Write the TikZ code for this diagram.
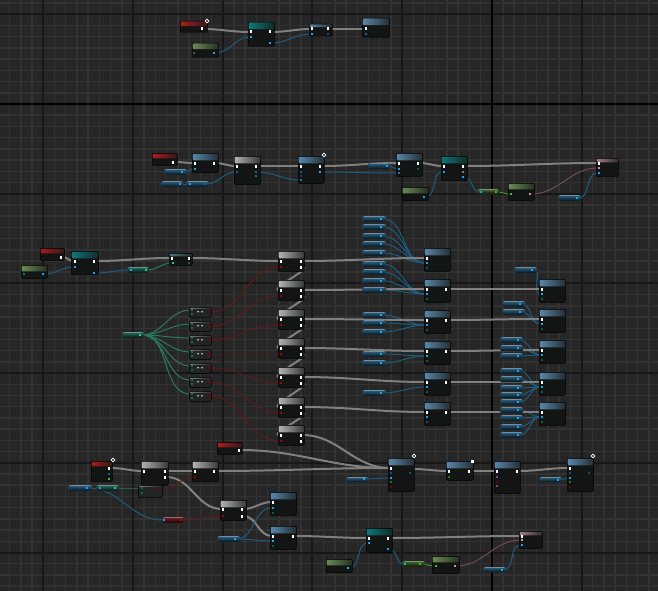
\documentclass[tikz,border=0pt]{standalone}
\usepackage{tikz}
\usepackage{xcolor}

\pgfdeclarelayer{grid}
\pgfdeclarelayer{wires}
\pgfsetlayers{grid,wires,main}

\definecolor{canvas}{HTML}{262626}
\definecolor{gridminor}{HTML}{323232}
\definecolor{gridmajor}{HTML}{171717}
\definecolor{nodebg}{HTML}{131515}
\definecolor{evred}{HTML}{A81E1E}
\definecolor{fnteal}{HTML}{0F777B}
\definecolor{fnblue}{HTML}{5A88AA}
\definecolor{macgray}{HTML}{B4B4B4}
\definecolor{cmphdr}{HTML}{7A7A7A}
\definecolor{pugreen}{HTML}{6B8C55}
\definecolor{pkpink}{HTML}{A27C8A}
\definecolor{varblue}{HTML}{3E8FBF}
\definecolor{varteal}{HTML}{3A9A82}
\definecolor{vargreen}{HTML}{5E9C40}
\definecolor{varred}{HTML}{A03030}
\definecolor{pinblue}{HTML}{1CA3EA}
\definecolor{pinteal}{HTML}{22C896}
\definecolor{pinred}{HTML}{A80000}
\definecolor{pingreen}{HTML}{33C21E}
\definecolor{pinpink}{HTML}{E884A4}
\definecolor{pinpurple}{HTML}{7A3AA0}
\definecolor{wexec}{HTML}{808080}
\definecolor{wblue}{HTML}{1D5D80}
\definecolor{wteal}{HTML}{2A7A5E}
\definecolor{wred}{HTML}{5E1A1A}
\definecolor{wpink}{HTML}{724A5C}
\definecolor{wgreen}{HTML}{3E8C2C}

\tikzset{
  nbody/.style={fill=nodebg, draw=black, line width=0.5pt, inner sep=0pt, anchor=north west, rounded corners=1pt},
  hdr/.style 2 args={path picture={\shade[left color=#1, right color=#1!22!nodebg] (path picture bounding box.north west) rectangle ([yshift=-#2pt]path picture bounding box.north east);}},
  ev/.style={nbody, hdr={evred}{5}},
  fnb/.style={nbody, hdr={fnblue}{7}},
  fnt/.style={nbody, hdr={fnteal}{7}},
  mac/.style={nbody, hdr={macgray}{7}},
  pure/.style={nbody, hdr={pugreen}{6}},
  pk/.style={nbody, hdr={pkpink}{4}},
  cmp/.style={nbody, fill=nodebg!85!gray, hdr={cmphdr}{1.5}},
  vnode/.style={inner sep=0pt, anchor=north west, rounded corners=2pt, draw=black!80, line width=0.4pt,
    top color=#1!70!black, bottom color=#1!10!black, minimum height=6pt,
    path picture={\draw[#1!55!white, line width=0.6pt] ([yshift=-0.4pt]path picture bounding box.north west) -- ([yshift=-0.4pt]path picture bounding box.north east);}},
  xpin/.style={fill=white, inner sep=0pt, minimum width=2.2pt, minimum height=3pt},
  dpin/.style={fill=#1, inner sep=0pt, minimum size=2.4pt},
  xw/.style={draw=wexec, line width=2pt},
  dw/.style={draw=#1, line width=1pt},
  ring/.style={draw=white, line width=0.7pt}
}

\begin{document}
\begin{tikzpicture}[x=1pt, y=-1pt]
\useasboundingbox (0,0) rectangle (658,591);

% canvas grid
\begin{pgfonlayer}{grid}
\fill[canvas] (0,0) rectangle (658,591);
\foreach \i in {-4,...,56} \draw[gridminor, line width=1.5pt] ({43.3+11.2125*\i},0) -- ++(0,591);
\foreach \i in {-2,...,52} \draw[gridminor, line width=1.5pt] (0,{14.3+11.2125*\i}) -- ++(658,0);
\foreach \i in {-1,...,7} {
  \draw[gridmajor, line width=2pt] ({43.3+89.7*\i},0) -- ++(0,591);
  \draw[gridmajor, line width=2pt] (0,{14.3+89.7*\i}) -- ++(658,0);
}
\draw[black, line width=2.4pt] (491.8,0) -- (491.8,591);
\draw[black, line width=2.4pt] (0,104) -- (658,104);
\end{pgfonlayer}

% top row
\node[ev, minimum width=27pt, minimum height=11pt] (t1) at (180,21) {};
\node[pure, minimum width=26pt, minimum height=14pt] (t2) at (192,43) {};
\node[fnt, minimum width=26pt, minimum height=24pt] (t3) at (248,22) {};
\node[nbody, hdr={fnblue}{3}, minimum width=23pt, minimum height=12pt] (t4) at (309,24) {};
\node[fnb, minimum width=27pt, minimum height=19pt] (t5) at (362,18) {};
\path (202,29) node[xpin] (t1o) {}
  (194,53) node[dpin=pinteal!60!black] (t2a) {}
  (214,53) node[dpin=pinblue] (t2o) {}
  (251,32) node[xpin] (t3i) {}
  (270,32) node[xpin] (t3o) {}
  (251,37) node[dpin=pinblue] (t3b) {}
  (270,43) node[dpin=pinblue] (t3r) {}
  (312,29) node[xpin] (t4i) {}
  (328,29) node[xpin] (t4o) {}
  (312,34) node[dpin=pinblue] (t4b) {}
  (328,34) node[dpin=pinblue!50!black] (t4r) {}
  (366,29) node[xpin] (t5i) {}
  (366,34) node[dpin=pinblue!60!black] (t5b) {};
\draw[ring] (207,21) circle (1.8pt);

% second row
\node[ev, minimum width=25pt, minimum height=12pt] (s1) at (152,153) {};
\node[fnb, minimum width=26pt, minimum height=19pt] (s2) at (192,153) {};
\node[vnode=varblue, minimum width=23pt] (s3) at (164,169) {};
\node[vnode=varblue, minimum width=22pt] (s4) at (161,181) {};
\node[vnode=varblue, minimum width=23pt] (s5) at (186,181) {};
\node[mac, minimum width=26pt, minimum height=28pt] (s6) at (234,156) {};
\node[fnb, minimum width=26pt, minimum height=27pt] (s7) at (298,156) {};
\node[vnode=varblue, minimum width=22pt] (s8) at (368,163) {};
\node[fnb, minimum width=26pt, minimum height=23pt] (s9) at (396,153) {};
\node[fnt, minimum width=26pt, minimum height=24pt] (s10) at (441,156) {};
\node[pure, minimum width=26pt, minimum height=13pt] (s11) at (402,187) {};
\node[vnode=vargreen, minimum width=22pt, minimum height=5pt] (s12) at (477,189) {};
\node[pure, minimum width=26pt, minimum height=17pt] (s13) at (508,183) {};
\node[vnode=varblue, minimum width=23pt] (s14) at (558,195) {};
\node[pk, minimum width=22pt, minimum height=18pt] (s15) at (596,158) {};
\path (173,162) node[xpin] (s1o) {}
  (195,163) node[xpin] (s2i) {}
  (214,163) node[xpin] (s2o) {}
  (195,169) node[dpin=pinblue] (s2b) {}
  (182,172) node[dpin=pinblue] (s3o) {}
  (180,184) node[dpin=pinblue] (s4o) {}
  (190,184) node[dpin=pinblue] (s5i) {}
  (205,184) node[dpin=pinblue!60!black] (s5o) {}
  (237,166) node[xpin] (s6i) {}
  (256,166) node[xpin] (s6o) {}
  (237,172) node[dpin=pinblue!60!black] (s6b) {}
  (256,172) node[dpin=pinblue!60!black] (s6r) {}
  (256,176) node[dpin=pinteal!60!black] (s6t) {}
  (301,166) node[xpin] (s7i) {}
  (320,166) node[xpin] (s7o) {}
  (301,172) node[dpin=pinblue!60!black] (s7a) {}
  (301,176) node[dpin=pinpurple!60!black] (s7b) {}
  (301,180) node[dpin=pinblue!70!black] (s7c) {}
  (320,172) node[dpin=pinblue] (s7r) {}
  (387,166) node[dpin=pinblue] (s8o) {}
  (399,163) node[xpin] (s9i) {}
  (418,163) node[xpin] (s9o) {}
  (399,169) node[dpin=pinblue] (s9a) {}
  (399,173) node[dpin=pinblue!70!black] (s9b) {}
  (418,169) node[dpin=pinblue!50!black] (s9r) {}
  (444,166) node[xpin] (s10i) {}
  (463,166) node[xpin] (s10o) {}
  (444,172) node[dpin=pinblue] (s10b) {}
  (463,172) node[dpin=gray] (s10g) {}
  (463,177) node[dpin=pinblue] (s10r) {}
  (424,197) node[dpin=pinblue] (s11o) {}
  (481,192) node[dpin=pinblue] (s12i) {}
  (496,192) node[dpin=pingreen] (s12o) {}
  (511,194) node[dpin=pingreen] (s13i) {}
  (530,194) node[dpin=pinpink] (s13o) {}
  (577,198) node[dpin=pinblue] (s14o) {}
  (599,163) node[xpin] (s15i) {}
  (599,168) node[dpin=pinpink] (s15p) {}
  (599,173) node[dpin=pinblue] (s15b) {};
\draw[ring] (324,155) circle (1.8pt);

% third group, left part
\node[ev, minimum width=24pt, minimum height=12pt] (u1) at (40,248) {};
\node[pure, minimum width=26pt, minimum height=13pt] (u2) at (21,265) {};
\node[fnt, minimum width=27pt, minimum height=23pt] (u3) at (71,251) {};
\node[vnode=varteal, minimum width=22pt] (u4) at (127,267) {};
\node[nbody, hdr={fnteal!45!gray}{3}, minimum width=23pt, minimum height=12pt] (u5) at (169,253) {};
\node[vnode=varteal, minimum width=22pt] (c0) at (122,332) {};
\path (61,257) node[xpin] (u1o) {}
  (24,274) node[dpin=pinteal!60!black] (u2a) {}
  (43,274) node[dpin=pinblue] (u2o) {}
  (75,261) node[xpin] (u3i) {}
  (94,261) node[xpin] (u3o) {}
  (75,267) node[dpin=pinblue] (u3b) {}
  (94,273) node[dpin=pinblue] (u3r) {}
  (131,270) node[dpin=pinblue] (u4i) {}
  (146,270) node[dpin=pinteal] (u4o) {}
  (172,258) node[xpin] (u5i) {}
  (189,258) node[xpin] (u5o) {}
  (173,263) node[dpin=pinteal] (u5t) {}
  (189,263) node[dpin=pinteal!50!black] (u5r) {}
  (140,335) node[dpin=pinteal] (c0o) {};

% macro column
\foreach \i/\t in {1/251,2/280,3/309,4/338,5/367,6/397,7/425} {
  \node[mac, minimum width=26pt, minimum height=20pt] (g\i) at (278,\t) {};
  \path (281,\t+10) node[xpin] (gi\i) {}
    (301,\t+10) node[xpin] (go\i) {}
    (301,\t+16) node[xpin] (gn\i) {}
    (281,\t+16) node[dpin=pinred] (gr\i) {};
}

% small compare nodes
\foreach \i in {1,...,7} {
  \node[cmp, minimum width=22pt, minimum height=10pt] (c\i) at (189,{293+14*\i}) {};
  \path (192,{296+14*\i}) node[dpin=pinteal!55!black] (ca\i) {}
    (192,{300+14*\i}) node[dpin=pinteal!55!black] (cb\i) {}
    (209,{298+14*\i}) node[dpin=pinred!70!black] (cr\i) {};
  \fill[gray!70] (197,{297+14*\i}) rectangle ++(2,1.4) (201,{297+14*\i}) rectangle ++(2,1.4);
}

% middle and right columns
\foreach \i/\t in {1/248,2/279,3/310,4/341,5/372,6/402} {
  \node[fnb, minimum width=26pt, minimum height=23pt] (m\i) at (424,\t) {};
  \path (427,\t+10) node[xpin] (mi\i) {}
    (427,\t+15) node[dpin=pinblue] (mb\i) {}
    (427,\t+20) node[dpin=pinteal!45!black] (mt\i) {};
}
\foreach \i/\t in {2/279,3/310,4/341,5/372,6/402} \node[xpin] (mo\i) at (446,\t+10) {};
\foreach \i/\t in {1/279,2/309,3/340,4/372,5/402} {
  \node[fnb, minimum width=26pt, minimum height=23pt] (r\i) at (539,\t) {};
  \path (542,\t+10) node[xpin] (ri\i) {}
    (542,\t+15) node[dpin=pinblue] (rb\i) {}
    (542,\t+20) node[dpin=pinteal!45!black] (rt\i) {};
}

% variable getters feeding the columns
\foreach \i/\y/\m in {1/219/1,2/227/1,3/236/1,4/244/1,5/253/1,6/264/2,7/272/2,8/281/2,9/290/2,10/315/3,11/323/3,12/332/3,13/354/4,14/363/4,15/393/5} {
  \node[vnode=varblue, minimum width=24pt] (lv\i) at (362,\y-3) {};
  \node[dpin=pinblue] (lp\i) at (381,\y) {};
  \begin{pgfonlayer}{wires}
    \draw[dw=wblue] (lp\i) to[out=0,in=180] (mb\m);
  \end{pgfonlayer}
}
\foreach \i/\x/\y/\r in {1/514/270/1,2/502/304/2,3/502/312/2,4/500/340/3,5/500/348/3,6/500/356/3,7/500/371/4,8/500/379/4,9/500/388/4,10/500/395/4,11/500/402/4,12/500/410/5,13/500/418/5,14/500/427/5,15/500/435/5} {
  \node[vnode=varblue, minimum width=23pt] (rv\i) at (\x,\y-3) {};
  \node[dpin=pinblue] (rp\i) at (\x+18,\y) {};
  \begin{pgfonlayer}{wires}
    \draw[dw=wblue] (rp\i) to[out=0,in=180] (rb\r);
  \end{pgfonlayer}
}

% bottom group
\node[ev, minimum width=21pt, minimum height=20pt] (b1) at (91,461) {};
\node[mac, minimum width=27pt, minimum height=24pt] (b2) at (141,461) {};
\node[mac, minimum width=26pt, minimum height=20pt] (b3) at (192,461) {};
\node[ev, minimum width=25pt, minimum height=12pt] (b4) at (217,442) {};
\node[vnode=varblue, minimum width=24pt] (va) at (68,485) {};
\node[vnode=varteal, minimum width=23pt] (vb) at (96,485) {};
\node[cmp, minimum width=24pt, minimum height=12pt] (dk) at (138,485) {};
\node[vnode=varred, minimum width=22pt] (vr) at (162,517) {};
\node[mac, minimum width=26pt, minimum height=20pt] (b5) at (220,500) {};
\node[fnb, minimum width=26pt, minimum height=23pt] (b6) at (270,492) {};
\node[fnb, minimum width=26pt, minimum height=23pt] (b7) at (270,526) {};
\node[vnode=varblue, minimum width=23pt] (vc) at (217,536) {};
\node[pure, minimum width=26pt, minimum height=13pt] (b8) at (326,559) {};
\node[fnb, minimum width=26pt, minimum height=33pt] (n1) at (388,458) {};
\node[vnode=varblue, minimum width=22pt, minimum height=5pt] (vd) at (346,477) {};
\node[fnb, minimum width=27pt, minimum height=19pt] (n2) at (446,461) {};
\node[fnb, minimum width=26pt, minimum height=32pt] (n3) at (494,461) {};
\node[vnode=varblue, minimum width=23pt, minimum height=5pt] (ve) at (539,477) {};
\node[fnb, minimum width=26pt, minimum height=33pt] (n4) at (567,458) {};
\node[fnt, minimum width=26pt, minimum height=24pt] (tt) at (366,528) {};
\node[vnode=vargreen, minimum width=23pt] (vg) at (402,561) {};
\node[pure, minimum width=27pt, minimum height=17pt] (gb) at (432,556) {};
\node[vnode=varblue, minimum width=23pt, minimum height=5pt] (vf) at (483,567) {};
\node[pk, minimum width=23pt, minimum height=17pt] (pp) at (519,531) {};
\path (109,468) node[xpin] (b1o) {}
  (109,474) node[dpin=pinblue!60!black] (b1b) {}
  (109,479) node[dpin=pingreen] (b1g) {}
  (144,471) node[xpin] (b2i) {}
  (165,471) node[xpin] (b2o) {}
  (165,477) node[xpin] (b2n) {}
  (195,471) node[xpin] (b3i) {}
  (214,471) node[xpin] (b3o) {}
  (195,477) node[dpin=pinred] (b3r) {}
  (239,450) node[xpin] (b4o) {}
  (87,488) node[dpin=pinblue] (vao) {}
  (100,488) node[dpin=pinblue] (vbi) {}
  (115,488) node[dpin=pinteal] (vbo) {}
  (142,488) node[dpin=pinteal!55!black] (dka) {}
  (142,493) node[dpin=pinteal!55!black] (dkb) {}
  (159,491) node[dpin=pinred!70!black] (dkr) {}
  (164,520) node[dpin=pinblue] (vri) {}
  (181,520) node[dpin=pinred] (vro) {}
  (223,509) node[xpin] (b5i) {}
  (242,509) node[xpin] (b5o) {}
  (223,516) node[dpin=pinred] (b5r) {}
  (242,516) node[xpin] (b5n) {}
  (273,502) node[xpin] (b6i) {}
  (273,508) node[dpin=pinblue] (b6b) {}
  (273,513) node[dpin=pinteal!45!black] (b6t) {}
  (273,536) node[xpin] (b7i) {}
  (293,536) node[xpin] (b7o) {}
  (273,541) node[dpin=pinblue] (b7b) {}
  (273,546) node[dpin=pinteal!45!black] (b7t) {}
  (235,539) node[dpin=pinblue] (vco) {}
  (348,568) node[dpin=pinblue] (b8o) {}
  (391,468) node[xpin] (n1i) {}
  (391,473) node[dpin=pinblue!50!black] (n1a) {}
  (391,478) node[dpin=pinblue] (n1b) {}
  (391,482) node[dpin=pingreen!60!black] (n1c) {}
  (391,487) node[dpin=pinred!70!black] (n1d) {}
  (410,473) node[dpin=pinblue!50!black] (n1r) {}
  (364,479) node[dpin=pinblue] (vdo) {}
  (449,471) node[xpin] (n2i) {}
  (469,471) node[xpin] (n2o) {}
  (449,477) node[dpin=pingreen!60!black] (n2g) {}
  (497,471) node[xpin] (n3i) {}
  (517,471) node[xpin] (n3o) {}
  (497,477) node[dpin=pinpurple] (n3a) {}
  (497,482) node[dpin=pinred!70!black] (n3b) {}
  (497,486) node[dpin=pinpurple] (n3c) {}
  (558,480) node[dpin=pinblue] (veo) {}
  (570,468) node[xpin] (n4i) {}
  (570,473) node[dpin=pinblue!50!black] (n4a) {}
  (570,478) node[dpin=pinblue] (n4b) {}
  (570,482) node[dpin=pingreen!60!black] (n4c) {}
  (570,487) node[dpin=pinred!70!black] (n4d) {}
  (589,473) node[dpin=pinblue!50!black] (n4r) {}
  (369,538) node[xpin] (tti) {}
  (388,538) node[xpin] (tto) {}
  (369,543) node[dpin=pinblue] (ttb) {}
  (388,549) node[dpin=pinblue] (ttr) {}
  (405,564) node[dpin=pinblue] (vgi) {}
  (420,564) node[dpin=pingreen] (vgo) {}
  (436,566) node[dpin=pingreen] (gbi) {}
  (455,566) node[dpin=pinpink] (gbo) {}
  (502,570) node[dpin=pinblue] (vfo) {}
  (522,536) node[xpin] (ppi) {}
  (522,540) node[dpin=pinpink] (ppp) {}
  (522,545) node[dpin=pinblue] (ppb) {};
\coordinate (n1o) at (413,469);
\draw[ring] (113,460) circle (1.8pt);
\draw[ring] (414,456) circle (1.8pt);
\draw[ring] (593,456) circle (1.8pt);
\fill[white] (470.5,459.5) rectangle ++(3,3);

% wires
\begin{pgfonlayer}{wires}
\draw[xw] (t1o) to[out=0,in=180] (t3i);
\draw[xw] (t3o) to[out=0,in=180] (t4i);
\draw[xw] (t4o) to[out=0,in=180] (t5i);
\draw[dw=wblue] (t2o) to[out=0,in=180] (t3b);
\draw[dw=wblue] (t3r) to[out=0,in=180] (t4b);

\draw[xw] (s1o) to[out=0,in=180] (s2i);
\draw[xw] (s2o) to[out=0,in=180] (s6i);
\draw[xw] (s6o) to[out=0,in=180] (s7i);
\draw[xw] (s7o) to[out=0,in=180] (s9i);
\draw[xw] (s9o) to[out=0,in=180] (s10i);
\draw[xw] (s10o) to[out=0,in=180] (s15i);
\draw[dw=wblue] (s3o) to[out=0,in=180] (s2b);
\draw[dw=wblue] (s4o) to[out=0,in=180] (s5i);
\draw[dw=wblue] (s5o) to[out=0,in=180] (s6b);
\draw[dw=wblue] (s6r) to[out=0,in=180] (s7c);
\draw[dw=wblue] (s7r) to[out=0,in=180] (s9b);
\draw[dw=wblue] (s8o) to[out=0,in=180] (s9a);
\draw[dw=wblue] (s11o) to[out=0,in=180] (s10b);
\draw[dw=wblue] (s10r) to[out=0,in=180] (s12i);
\draw[dw=wgreen] (s12o) to[out=0,in=180] (s13i);
\draw[dw=wpink] (s13o) to[out=0,in=180] (s15p);
\draw[dw=wblue] (s14o) to[out=0,in=180] (s15b);

\draw[xw] (u1o) to[out=0,in=180] (u3i);
\draw[xw] (u3o) to[out=0,in=180] (u5i);
\draw[xw] (u5o) to[out=0,in=180] (gi1);
\draw[dw=wblue] (u2o) to[out=0,in=180] (u3b);
\draw[dw=wblue] (u3r) to[out=0,in=180] (u4i);
\draw[dw=wteal] (u4o) to[out=0,in=180] (u5t);
\foreach \i in {1,...,7} {
  \draw[dw=wteal] (c0o) to[out=0,in=180] (ca\i);
  \draw[dw=wred] (cr\i) to[out=0,in=180] (gr\i);
}
\foreach \i in {1,...,6} \draw[xw] (go\i) to[out=0,in=180] (mi\i);
\foreach \i/\j in {1/2,2/3,3/4,4/5,5/6,6/7} \draw[xw] (gn\i) to[out=0,in=180] (gi\j);
\foreach \i/\j in {2/1,3/2,4/3,5/4,6/5} \draw[xw] (mo\i) to[out=0,in=180] (ri\j);

\draw[xw] (b1o) to[out=0,in=180] (b2i);
\draw[xw] (b2o) to[out=0,in=180] (b3i);
\draw[xw] (b3o) to[out=0,in=180] (n1i);
\draw[xw] (b4o) to[out=0,in=180] (n1i);
\draw[xw] (go7) to[out=0,in=180] (n1i);
\draw[xw] (b2n) to[out=0,in=180] (b5i);
\draw[xw] (b5o) to[out=0,in=180] (b6i);
\draw[xw] (b5n) to[out=0,in=180] (b7i);
\draw[xw] (b7o) to[out=0,in=180] (tti);
\draw[xw] (tto) to[out=0,in=180] (ppi);
\draw[xw] (n1o) to[out=0,in=180] (n2i);
\draw[xw] (n2o) to[out=0,in=180] (n3i);
\draw[xw] (n3o) to[out=0,in=180] (n4i);
\draw[dw=wblue] (vao) to[out=0,in=180] (vbi);
\draw[dw=wblue] (vao) to[out=0,in=180] (vri);
\draw[dw=wteal] (vbo) to[out=0,in=180] (dka);
\draw[dw=wred] (dkr) to[out=0,in=180] (b3r);
\draw[dw=wred] (vro) to[out=0,in=180] (b5r);
\draw[dw=wblue] (vco) to[out=0,in=180] (b6b);
\draw[dw=wblue] (vco) to[out=0,in=180] (b7b);
\draw[dw=wblue] (b8o) to[out=0,in=180] (ttb);
\draw[dw=wblue] (ttr) to[out=0,in=180] (vgi);
\draw[dw=wgreen] (vgo) to[out=0,in=180] (gbi);
\draw[dw=wpink] (gbo) to[out=0,in=180] (ppp);
\draw[dw=wblue] (vfo) to[out=0,in=180] (ppb);
\draw[dw=wblue] (vdo) to[out=0,in=180] (n1b);
\draw[dw=wblue] (veo) to[out=0,in=180] (n4b);
\end{pgfonlayer}
\end{tikzpicture}
\end{document}
